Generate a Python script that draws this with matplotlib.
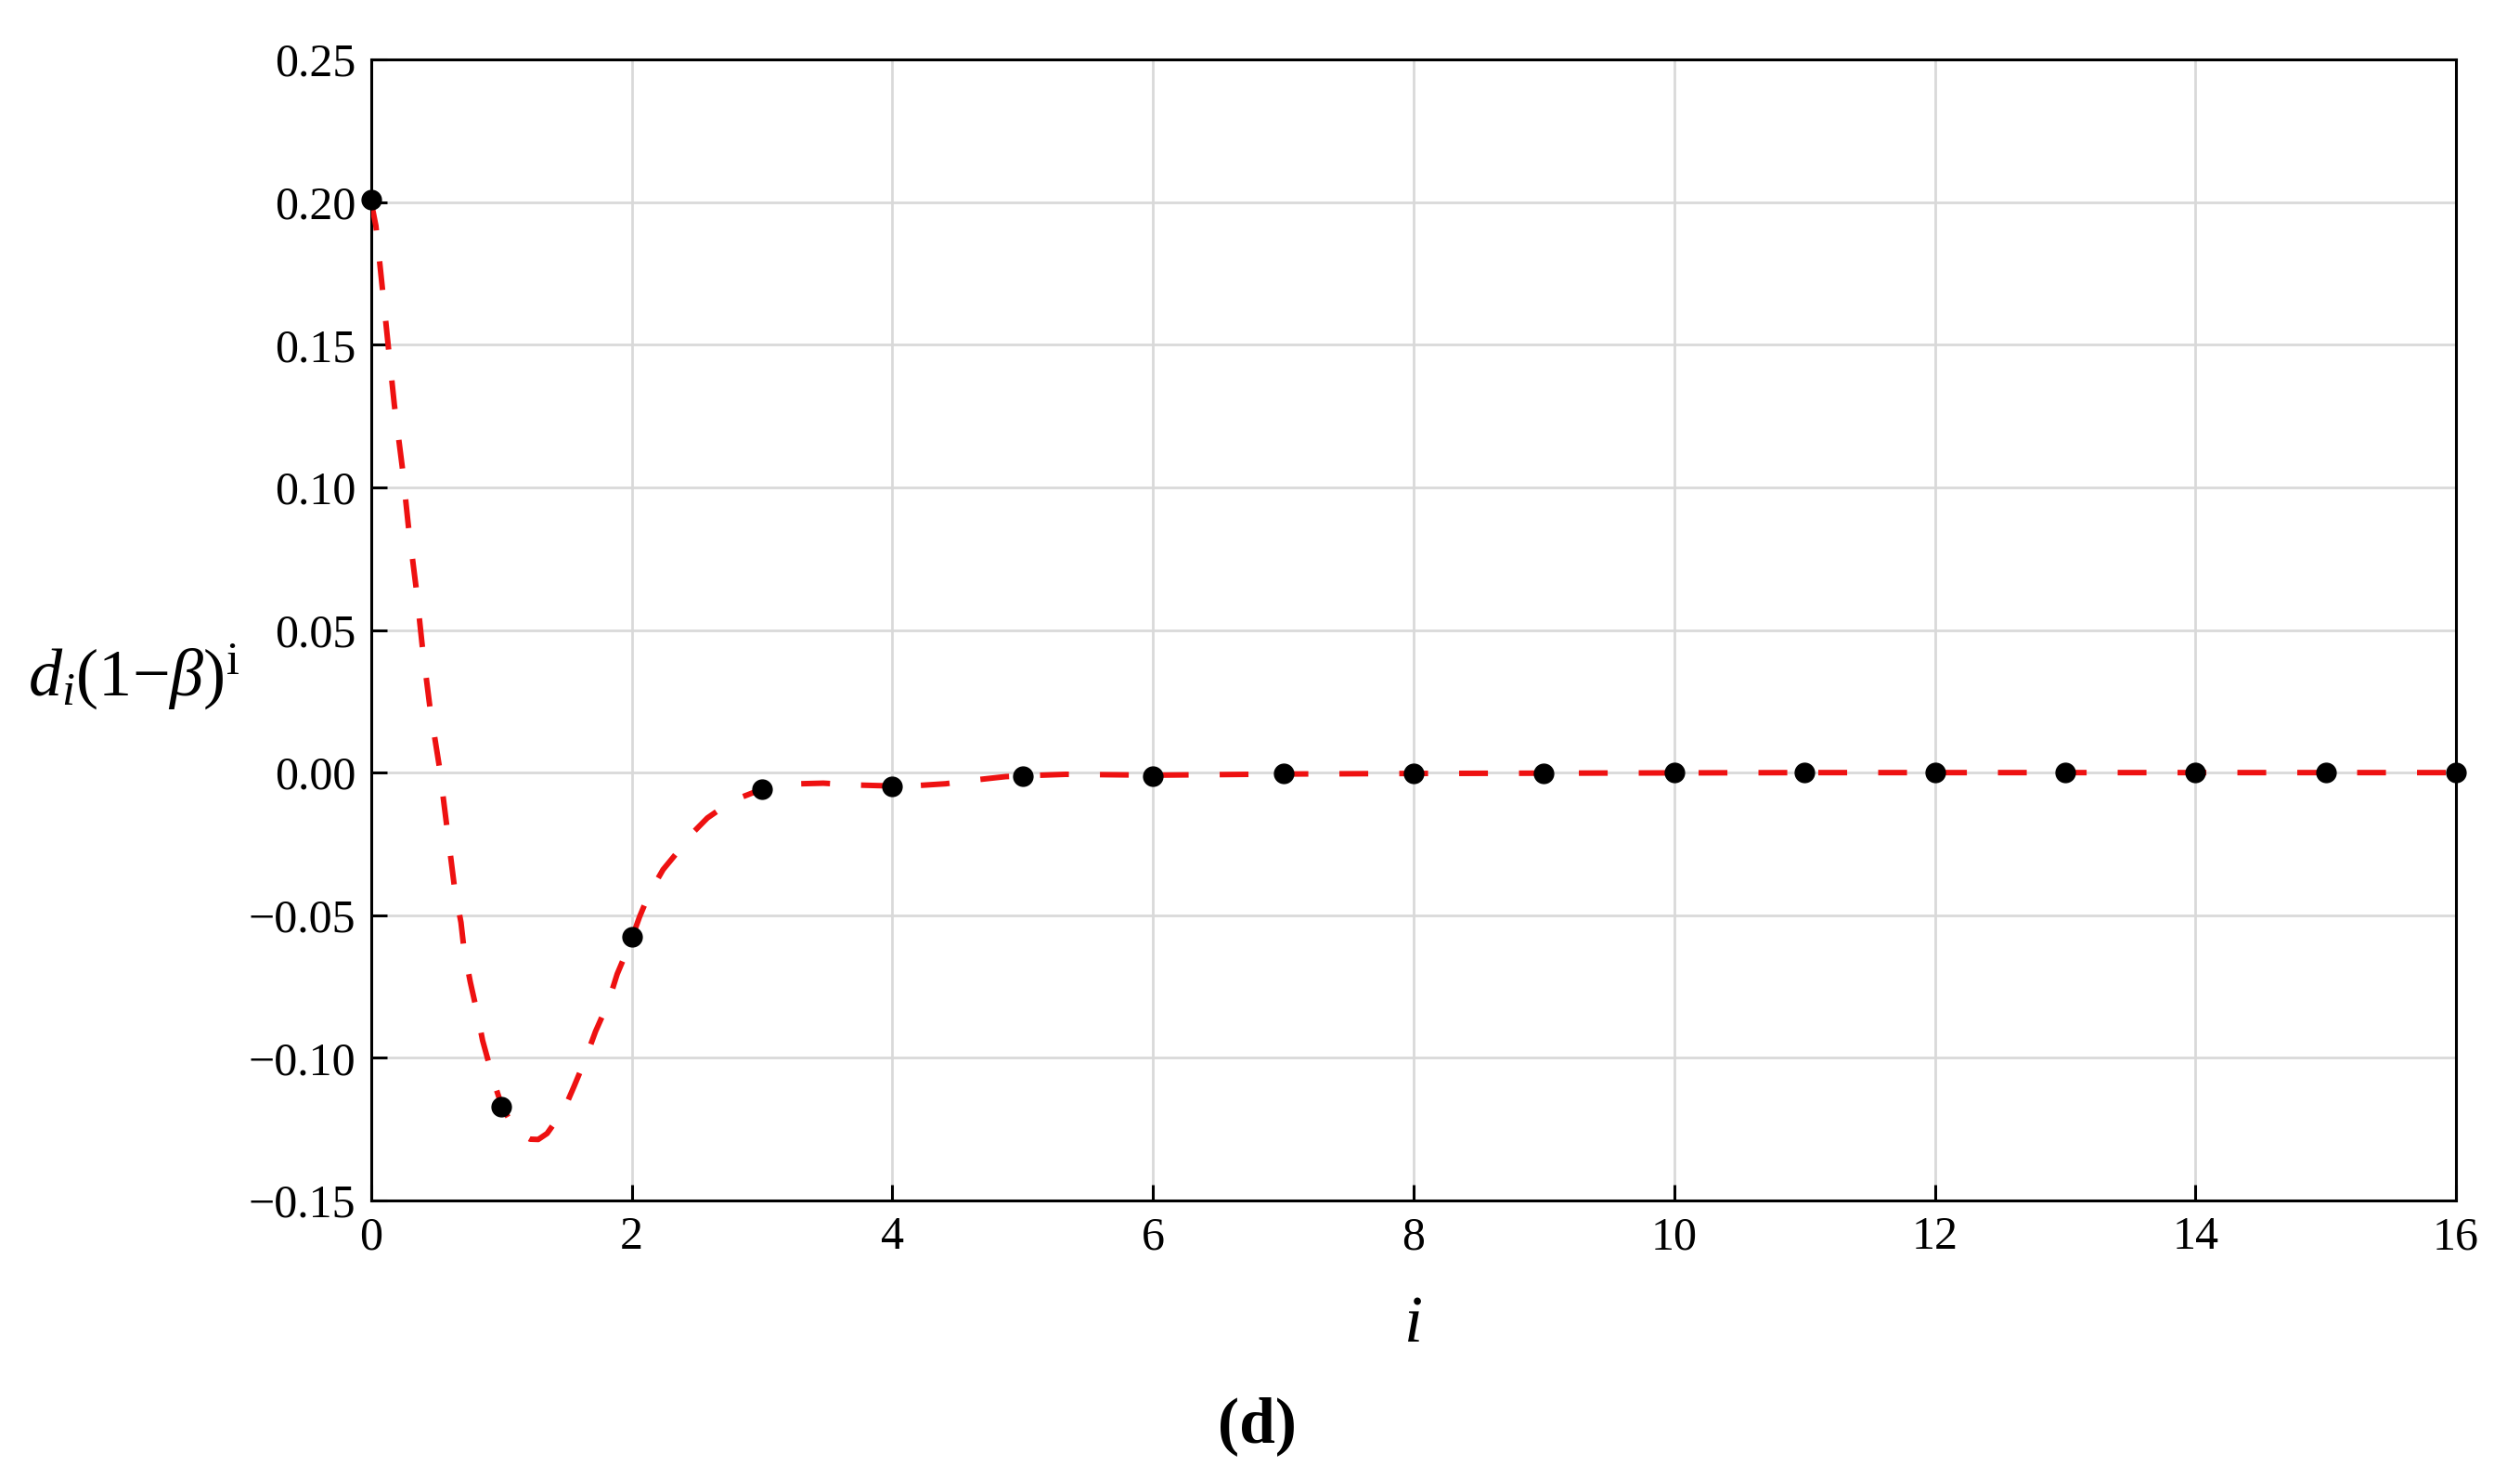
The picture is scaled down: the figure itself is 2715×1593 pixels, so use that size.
import matplotlib
matplotlib.use("Agg")
import matplotlib.pyplot as plt
import numpy as np

# data points (black dots)
point_i = [0, 1, 2, 3, 4, 5, 6, 7, 8, 9, 10, 11, 12, 13, 14, 15, 16]
point_val = [0.201, -0.117, -0.0576, -0.0058, -0.0047, -0.0012, -0.0011, -0.0004,
             -0.0003, -0.0002, -0.0001, 0.0, 0.0, 0.0, 0.0, 0.0, 0.0]

# fitted curve (red dashed)
curve_x = [0.0, 0.036, 0.083, 0.131, 0.178, 0.238, 0.285, 0.344, 0.392, 0.451,
           0.523, 0.582, 0.641, 0.689, 0.712, 0.760, 0.808, 0.855, 0.914, 0.96,
           1.0, 1.033, 1.081, 1.15, 1.22, 1.282, 1.35, 1.401, 1.437, 1.5, 1.555,
           1.639, 1.722, 1.817, 1.888, 1.983, 2.06, 2.135, 2.24, 2.35, 2.47, 2.58,
           2.77, 3.0, 3.22, 3.47, 3.69, 4.0, 4.1, 4.41, 4.63, 4.87, 5.08, 5.33,
           5.57, 6.0, 7.0, 8.0, 9.0, 10.0, 11.0, 12.0, 13.0, 14.0, 15.0, 16.0]
curve_y = [0.200, 0.1917, 0.171, 0.1495, 0.1288, 0.1073, 0.0866, 0.0651, 0.0444,
           0.0228, 0.0021, -0.0194, -0.0409, -0.0525, -0.0619, -0.0733, -0.0831,
           -0.0939, -0.1037, -0.1110, -0.1165, -0.1194, -0.1232, -0.1267, -0.1285,
           -0.1286, -0.1265, -0.1232, -0.1210, -0.1160, -0.1102, -0.1010, -0.0907,
           -0.0809, -0.0706, -0.0603, -0.0505, -0.0423, -0.0340, -0.0279, -0.0210,
           -0.0159, -0.0099, -0.0058, -0.0040, -0.0037, -0.0043, -0.0047, -0.0048,
           -0.0039, -0.0026, -0.0014, -0.0010, -0.0006, -0.0007, -0.0009, -0.0005,
           -0.0003, -0.0002, -0.0001, 0.0, 0.0, 0.0, 0.0, 0.0, 0.0]

x_ticks = np.arange(0, 17, 2)
y_ticks = np.arange(-0.15, 0.2501, 0.05)

plt.rcParams['font.family'] = ['Liberation Serif', 'DejaVu Serif']
plt.rcParams['mathtext.fontset'] = 'custom'
plt.rcParams['mathtext.rm'] = 'Liberation Serif'
plt.rcParams['mathtext.it'] = 'Liberation Serif:italic'
plt.rcParams['mathtext.bf'] = 'Liberation Serif:bold'

fig = plt.figure(figsize=(27.15, 15.93), dpi=100)
ax = fig.add_axes([0.1473, 0.1883, 0.8273, 0.7715])

ax.plot(curve_x, curve_y, color='#ee1111', lw=4.3, dashes=(5.2, 5.6), zorder=3)
ax.plot(point_i, point_val, 'o', color='black', ms=15, zorder=4, clip_on=False)

ax.set_xlim(0, 16)
ax.set_ylim(-0.15, 0.25)
ax.set_xticks(x_ticks)
ax.set_yticks(y_ticks)
ax.set_yticklabels([f"{v:.2f}".replace('-', '\u2212') if abs(v) > 1e-9 else "0.00"
                    for v in y_ticks])
ax.grid(True, color='#d9d9d9', lw=2.0)
ax.set_axisbelow(True)

ax.tick_params(direction='in', length=12, width=2.2, labelsize=36, pad=12)
for s in ax.spines.values():
    s.set_linewidth(2.2)

fig.text(0.053, 0.542, r'$d_{i}(1{-}\beta)^{\mathrm{i}}$', fontsize=52,
         ha='center', va='center')
fig.text(0.561, 0.104, 'i', fontsize=52, style='italic', ha='center', va='center')
fig.text(0.499, 0.036, '(d)', fontsize=50, fontweight='bold', ha='center', va='center')

fig.savefig('out.png', dpi=100)
